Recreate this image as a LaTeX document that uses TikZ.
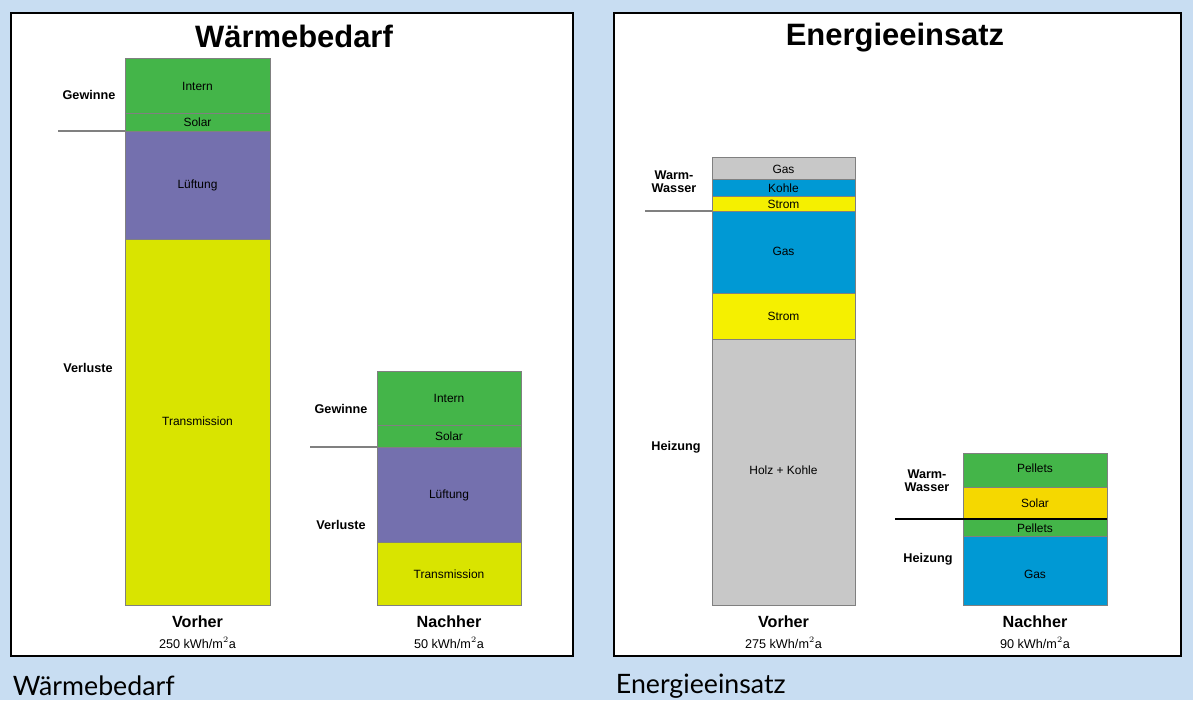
\documentclass[tikz,border=0pt]{standalone}
\usepackage{fontspec}
\setmainfont{Liberation Sans}
\newfontfamily\capfont{Lato}
\usetikzlibrary{positioning}

\definecolor{bgblue}{HTML}{C8DDF2}
\definecolor{gruen}{HTML}{44B549}
\definecolor{lila}{HTML}{7470AE}
\definecolor{gelbgruen}{HTML}{D9E400}
\definecolor{grau}{HTML}{C8C8C8}
\definecolor{blau}{HTML}{0099D4}
\definecolor{gelb}{HTML}{F5F000}
\definecolor{gold}{HTML}{F5D800}

\tikzset{
    panel/.style={draw=black, line width=1.6pt, fill=white},
    seg/.style={draw=black!50, line width=0.6pt},
    segtext/.style={font=\fontsize{8.5}{9}\selectfont, inner sep=0pt},
    sidetext/.style={font=\bfseries\fontsize{9}{9}\selectfont, align=center, inner sep=0pt},
    trenn/.style={draw=gray, line width=1pt},
    titel/.style={font=\bfseries\fontsize{22}{24}\selectfont},
    spalte/.style={font=\bfseries\fontsize{11.5}{12}\selectfont},
    wert/.style={font=\fontsize{9}{10}\selectfont},
    unten/.style={font=\capfont\fontsize{19}{20}\selectfont, anchor=west},
}

\begin{document}
\begin{tikzpicture}[x=0.025cm, y=-0.025cm]
    \fill[bgblue] (0,0) rectangle (1193,700);
    \useasboundingbox (0,0) rectangle (1193,700);

    % Waermebedarf
    \draw[panel] (11,13) rectangle (573,656);
    \node[titel] (wb-titel) at (294,36) {Wärmebedarf};

    \draw[seg, fill=gruen]     (125,58)  rectangle (270,113);
    \draw[seg, fill=gruen]     (125,113) rectangle (270,131);
    \draw[seg, fill=lila]      (125,131) rectangle (270,239);
    \draw[seg, fill=gelbgruen] (125,239) rectangle (270,605);
    \node[segtext] (wv-intern) at (197.5,86)  {Intern};
    \node[segtext] (wv-solar)  at (197.5,122) {Solar};
    \node[segtext] (wv-lueft)  at (197.5,185) {Lüftung};
    \node[segtext] (wv-trans)  at (197.5,421) {Transmission};
    \coordinate (wv-links) at (58,131);
    \coordinate (wv-bar) at (125,131);
    \draw[trenn] (wv-links) -- (wv-bar);
    \node[sidetext] (wv-gew) at (89,95)  {Gewinne};
    \node[sidetext] (wv-ver) at (88,368) {Verluste};
    \node[spalte] (wv-name) at (197.5,622) {Vorher};
    \node[wert] (wv-wert) at (197.5,643) {250 kWh/m$^2$a};

    \draw[seg, fill=gruen]     (377,371) rectangle (521,425);
    \draw[seg, fill=gruen]     (377,425) rectangle (521,447);
    \draw[seg, fill=lila]      (377,447) rectangle (521,542);
    \draw[seg, fill=gelbgruen] (377,542) rectangle (521,605);
    \node[segtext] (wn-intern) at (449,398) {Intern};
    \node[segtext] (wn-solar)  at (449,436) {Solar};
    \node[segtext] (wn-lueft)  at (449,495) {Lüftung};
    \node[segtext] (wn-trans)  at (449,574) {Transmission};
    \coordinate (wn-links) at (310,447);
    \coordinate (wn-bar) at (377,447);
    \draw[trenn] (wn-links) -- (wn-bar);
    \node[sidetext] (wn-gew) at (341,409) {Gewinne};
    \node[sidetext] (wn-ver) at (341,525) {Verluste};
    \node[spalte] (wn-name) at (449,622) {Nachher};
    \node[wert] (wn-wert) at (449,643) {50 kWh/m$^2$a};

    % Energieeinsatz
    \draw[panel] (614,13) rectangle (1181,656);
    \node[titel] (ee-titel) at (895,38) {Energieeinsatz};

    \draw[seg, fill=grau] (712,157) rectangle (855,179);
    \draw[seg, fill=blau] (712,179) rectangle (855,196);
    \draw[seg, fill=gelb] (712,196) rectangle (855,211);
    \draw[seg, fill=blau] (712,211) rectangle (855,293);
    \draw[seg, fill=gelb] (712,293) rectangle (855,339);
    \draw[seg, fill=grau] (712,339) rectangle (855,605);
    \node[segtext] (ev-gas1)   at (783.5,169) {Gas};
    \node[segtext] (ev-kohle)  at (783.5,188) {Kohle};
    \node[segtext] (ev-strom1) at (783.5,204) {Strom};
    \node[segtext] (ev-gas2)   at (783.5,251) {Gas};
    \node[segtext] (ev-strom2) at (783.5,316) {Strom};
    \node[segtext] (ev-holz)   at (783.5,470) {Holz + Kohle};
    \coordinate (ev-links) at (645,211);
    \coordinate (ev-bar) at (712,211);
    \draw[trenn] (ev-links) -- (ev-bar);
    \node[sidetext] (ev-ww)   at (674,182) {Warm-\\[0pt]Wasser};
    \node[sidetext] (ev-heiz) at (676,447) {Heizung};
    \node[spalte] (ev-name) at (783.5,622) {Vorher};
    \node[wert] (ev-wert) at (783.5,643) {275 kWh/m$^2$a};

    \draw[seg, fill=gruen] (963,453) rectangle (1107,487);
    \draw[seg, fill=gold]  (963,487) rectangle (1107,519);
    \draw[seg, fill=gruen] (963,519) rectangle (1107,536);
    \draw[seg, fill=blau]  (963,536) rectangle (1107,605);
    \node[segtext] (en-pell1) at (1035,468) {Pellets};
    \node[segtext] (en-solar) at (1035,503) {Solar};
    \node[segtext] (en-pell2) at (1035,528) {Pellets};
    \node[segtext] (en-gas)   at (1035,574) {Gas};
    \coordinate (en-links) at (895,519);
    \coordinate (en-rechts) at (1107,519);
    \draw[black, line width=1pt] (en-links) -- (en-rechts);
    \node[sidetext] (en-ww)   at (927,481) {Warm-\\[0pt]Wasser};
    \node[sidetext] (en-heiz) at (928,559) {Heizung};
    \node[spalte] (en-name) at (1035,622) {Nachher};
    \node[wert] (en-wert) at (1035,643) {90 kWh/m$^2$a};

    % Bildunterschriften
    \node[unten] (cap-wb) at (8,686) {Wärmebedarf};
    \node[unten] (cap-ee) at (611,686) {Energieeinsatz};
\end{tikzpicture}
\end{document}
